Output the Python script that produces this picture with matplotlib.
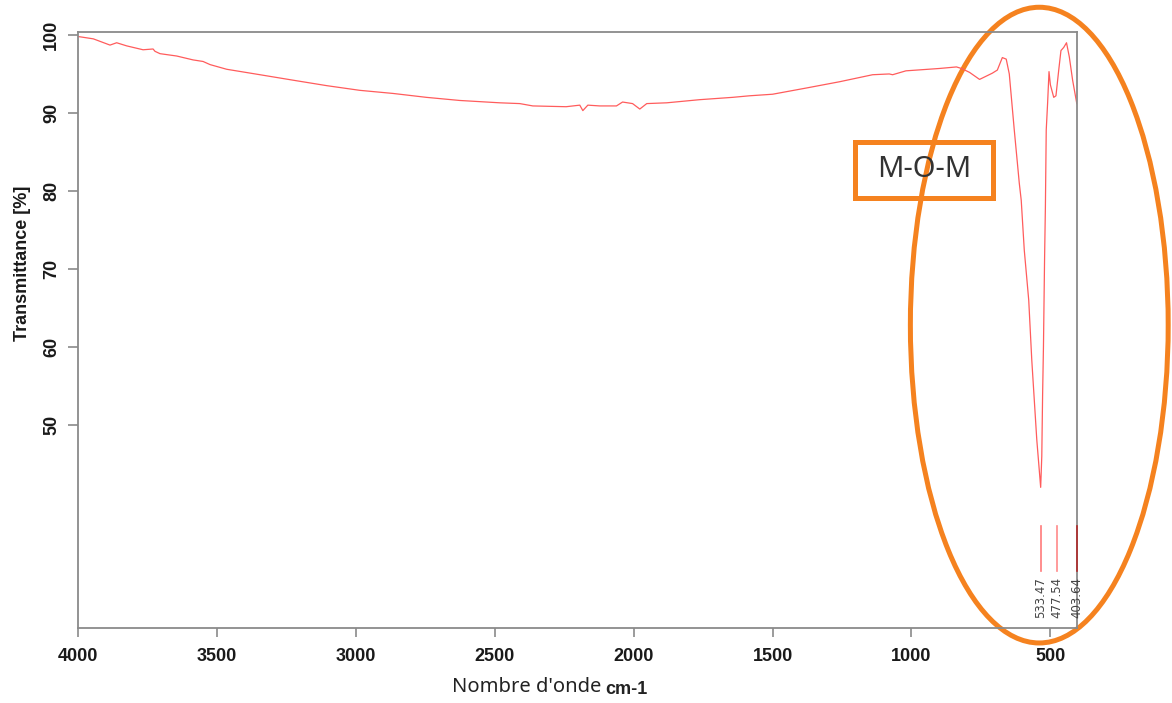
import numpy as np
import matplotlib.pyplot as plt
from matplotlib.patches import Ellipse, Rectangle

# IR spectrum (wavenumber cm-1, transmittance %)
wavenumber = [4000, 3945, 3885, 3861, 3825, 3766, 3730, 3723, 3705, 3645, 3586, 3550,
              3525, 3465, 3345, 3226, 3105, 2986, 2866, 2746, 2626, 2482, 2410, 2363,
              2243, 2194, 2183, 2165, 2122, 2062, 2040, 2004, 1978, 1953, 1881, 1763,
              1644, 1583, 1500, 1378, 1259, 1140, 1080, 1068, 1020, 900, 838, 820, 791,
              755, 709, 691, 673, 659, 648, 630, 612, 605, 594, 578, 567, 558, 549, 535,
              531, 528, 525, 521, 518, 515, 510, 505, 500, 488, 480, 470, 462, 452, 442,
              432, 420, 405]
transmittance = [99.8, 99.5, 98.7, 99.0, 98.6, 98.1, 98.2, 97.9, 97.6, 97.3, 96.8, 96.6,
                 96.2, 95.6, 94.9, 94.2, 93.5, 92.9, 92.5, 92.0, 91.6, 91.3, 91.2, 90.9,
                 90.8, 91.0, 90.3, 91.0, 90.9, 90.9, 91.4, 91.2, 90.5, 91.2, 91.3, 91.7,
                 92.0, 92.2, 92.4, 93.2, 94.0, 94.9, 95.0, 94.9, 95.4, 95.7, 95.9, 95.7, 95.2,
                 94.3, 95.1, 95.5, 97.1, 96.9, 95.0, 87.8, 81.0, 78.8, 72.4, 66.0, 58.3, 53.2,
                 48.1, 42.0, 46.0, 54.0, 60.0, 71.2, 78.0, 87.8, 91.3, 95.3, 93.6, 92.0,
                 92.2, 95.5, 98.0, 98.4, 99.0, 97.2, 94.2, 91.2]

peak_positions = [533.47, 477.54, 403.64]
peak_labels = ["533.47", "477.54", "403.64"]
peak_colors = ["#ff7a7a", "#ff8a8a", "#b02a2a"]

orange = "#f5821f"

plt.rcParams['font.family'] = ['Liberation Sans', 'DejaVu Sans']

fig = plt.figure(figsize=(11.72, 7.03), dpi=100)
ax = fig.add_axes([0.0666, 0.1067, 0.8524, 0.8478])

ax.plot(wavenumber, transmittance, color="#ff5c5c", lw=0.9)

# peak markers with their labels
for pos, lab, col in zip(peak_positions, peak_labels, peak_colors):
    ax.plot([pos, pos], [37.0, 31.3], color=col, lw=1.2, zorder=5, clip_on=False)
    ax.text(pos, 30.5, lab, rotation=90, ha='center', va='top', fontsize=8.5,
            family='DejaVu Sans', color='#444444')

ax.set_xlim(4000, 404)
ax.set_ylim(23.97, 100.38)
ax.set_xticks([4000, 3500, 3000, 2500, 2000, 1500, 1000, 500])
ax.set_yticks([50, 60, 70, 80, 90, 100])

for s in ax.spines.values():
    s.set_color('#8a8a8a')
    s.set_linewidth(1.3)
ax.tick_params(axis='x', length=6.5, width=1.2, color='#8a8a8a', pad=8,
               labelsize=13, labelcolor='#1a1a1a')
ax.tick_params(axis='y', length=7, width=1.2, color='#8a8a8a', pad=6,
               labelsize=13, labelcolor='#1a1a1a')
for t in ax.get_xticklabels() + ax.get_yticklabels():
    t.set_fontweight('bold')
plt.setp(ax.get_yticklabels(), rotation=90, va='center')

ax.text(-0.056, 0.612, "Transmittance [%]", transform=ax.transAxes, rotation=90,
        ha='center', va='center', fontsize=13, fontweight='bold', color='#1a1a1a')
ax.text(0.374, -0.107, "Nombre d'onde", transform=ax.transAxes, ha='left',
        va='baseline', fontsize=14.5, family='Noto Sans', color='#222222')
ax.text(0.528, -0.110, "cm-1", transform=ax.transAxes, ha='left', va='baseline',
        fontsize=13, fontweight='bold', color='#222222')

# orange highlight around the metal-oxygen band
ax.add_patch(Ellipse((540, 62.8), 928, 81.5, fill=False, edgecolor=orange, lw=3.6,
                     clip_on=False))
ax.add_patch(Rectangle((1203, 79.1), 707 - 1203, 86.3 - 79.1, fill=False,
                       edgecolor=orange, lw=3.6, clip_on=False))
ax.text(955, 82.7, "M-O-M", ha='center', va='center', fontsize=21,
        family='Noto Sans', color='#333333')

fig.savefig("out.png", dpi=100)
